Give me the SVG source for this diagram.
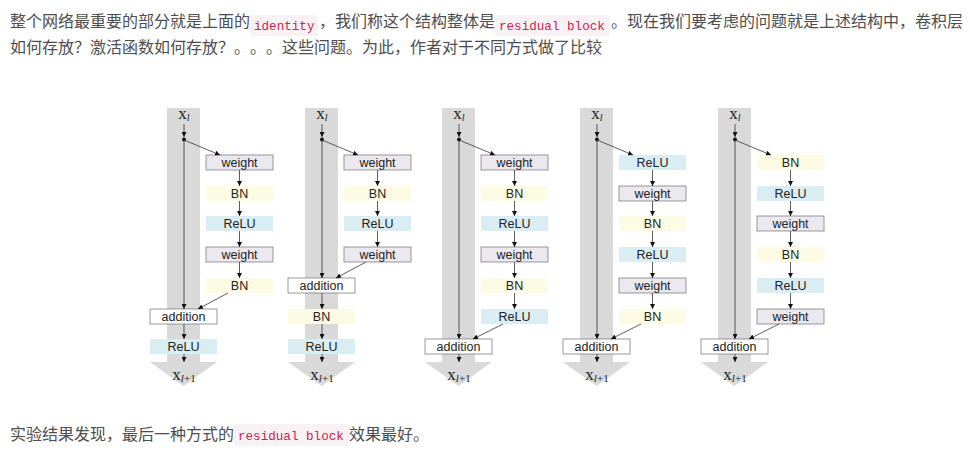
<svg xmlns="http://www.w3.org/2000/svg" width="970" height="453" viewBox="0 0 970 453">
<defs>
<style>
.p{font-family:"Noto Sans CJK SC","Noto Sans",sans-serif;font-size:16px;fill:#4d4d4d;text-spacing-trim:space-all;font-feature-settings:"halt" 0,"chws" 0}
.code{font-family:"Liberation Mono",monospace;font-size:12.6px;fill:#c7254e}
.cbg{fill:#f9f2f4}
.band{fill:#d9d9d9}
.w{fill:#ebe8f0;stroke:#7f7f7f;stroke-width:0.8}
.bn{fill:#fdfbe3}
.re{fill:#daedf3}
.ad{fill:#ffffff;stroke:#7f7f7f;stroke-width:0.8}
.t{font-family:"Liberation Sans",Arial,sans-serif;font-size:12.5px;fill:#222;text-anchor:middle}
.x{font-family:"Liberation Serif","Times New Roman",serif;font-size:17px;fill:#222;text-anchor:middle}
.ln{stroke:#333;stroke-width:0.8;fill:none;marker-end:url(#ah)}
.dot{fill:#111}
</style>
<marker id="ah" viewBox="0 0 6 6" refX="6" refY="3" markerWidth="5" markerHeight="5" markerUnits="userSpaceOnUse" orient="auto"><path d="M0,0 L6,3 L0,6 z" fill="#111"/></marker>
</defs>
<rect width="970" height="453" fill="#ffffff"/>

<g id="para">
<text class="p" x="10" y="27">整个网络最重要的部分就是上面的</text>
<rect class="cbg" x="250" y="15" width="68" height="21" rx="2"/>
<text class="code" x="254" y="30">identity</text>
<text class="p" x="319" y="27">，我们称这个结构整体是</text>
<rect class="cbg" x="495" y="15" width="115" height="21" rx="2"/>
<text class="code" x="499" y="30">residual block</text>
<text class="p" x="611" y="27">。现在我们要考虑的问题就是上述结构中，卷积层</text>
<text class="p" x="10" y="53">如何存放？激活函数如何存放？。。。这些问题。为此，作者对于不同方式做了比较</text>
<text class="p" x="10" y="440">实验结果发现，最后一种方式的</text>
<rect class="cbg" x="234" y="424" width="115" height="22" rx="2"/>
<text class="code" x="238" y="440">residual block</text>
<text class="p" x="349" y="440">效果最好。</text>
</g>

<g id="bands">
<rect class="band" x="167" y="108" width="33" height="254"/><polygon class="band" points="150,362 217,362 183.5,386"/>
<rect class="band" x="305" y="108" width="33" height="254"/><polygon class="band" points="288,362 355,362 321.5,386"/>
<rect class="band" x="442" y="108" width="33" height="254"/><polygon class="band" points="425,362 492,362 458.5,386"/>
<rect class="band" x="580" y="108" width="33" height="254"/><polygon class="band" points="563,362 630,362 596.5,386"/>
<rect class="band" x="718" y="108" width="33" height="254"/><polygon class="band" points="701,362 768,362 734.5,386"/>
</g>

<g id="labels">
<text class="x" x="184" y="119">x<tspan font-size="10" font-style="italic" dy="2">l</tspan></text>
<text class="x" x="322" y="119">x<tspan font-size="10" font-style="italic" dy="2">l</tspan></text>
<text class="x" x="459" y="119">x<tspan font-size="10" font-style="italic" dy="2">l</tspan></text>
<text class="x" x="597" y="119">x<tspan font-size="10" font-style="italic" dy="2">l</tspan></text>
<text class="x" x="735" y="119">x<tspan font-size="10" font-style="italic" dy="2">l</tspan></text>
<text class="x" x="184" y="380">x<tspan font-size="11" font-style="italic" dy="2">l</tspan><tspan font-size="11">+1</tspan></text>
<text class="x" x="322" y="380">x<tspan font-size="11" font-style="italic" dy="2">l</tspan><tspan font-size="11">+1</tspan></text>
<text class="x" x="459" y="380">x<tspan font-size="11" font-style="italic" dy="2">l</tspan><tspan font-size="11">+1</tspan></text>
<text class="x" x="597" y="380">x<tspan font-size="11" font-style="italic" dy="2">l</tspan><tspan font-size="11">+1</tspan></text>
<text class="x" x="735" y="380">x<tspan font-size="11" font-style="italic" dy="2">l</tspan><tspan font-size="11">+1</tspan></text>
</g>

<!-- Column 1 -->
<g id="c1-weight1"><rect class="w" x="206" y="155" width="67" height="15"/><text class="t" x="239.5" y="166.5">weight</text></g>
<g id="c1-bn1"><rect class="bn" x="206" y="186" width="67" height="15"/><text class="t" x="239.5" y="197.5">BN</text></g>
<g id="c1-relu1"><rect class="re" x="206" y="216" width="67" height="15"/><text class="t" x="239.5" y="227.5">ReLU</text></g>
<g id="c1-weight2"><rect class="w" x="206" y="247" width="67" height="15"/><text class="t" x="239.5" y="258.5">weight</text></g>
<g id="c1-bn2"><rect class="bn" x="206" y="278" width="67" height="15"/><text class="t" x="239.5" y="289.5">BN</text></g>
<g id="c1-add"><rect class="ad" x="150" y="309" width="67" height="15"/><text class="t" x="183.5" y="320.5">addition</text></g>
<g id="c1-relu2"><rect class="re" x="150" y="339" width="67" height="15"/><text class="t" x="183.5" y="350.5">ReLU</text></g>

<!-- Column 2 -->
<g id="c2-weight1"><rect class="w" x="344" y="155" width="67" height="15"/><text class="t" x="377.5" y="166.5">weight</text></g>
<g id="c2-bn1"><rect class="bn" x="344" y="186" width="67" height="15"/><text class="t" x="377.5" y="197.5">BN</text></g>
<g id="c2-relu1"><rect class="re" x="344" y="216" width="67" height="15"/><text class="t" x="377.5" y="227.5">ReLU</text></g>
<g id="c2-weight2"><rect class="w" x="344" y="247" width="67" height="15"/><text class="t" x="377.5" y="258.5">weight</text></g>
<g id="c2-add"><rect class="ad" x="288" y="278" width="67" height="15"/><text class="t" x="321.5" y="289.5">addition</text></g>
<g id="c2-bn2"><rect class="bn" x="288" y="309" width="67" height="15"/><text class="t" x="321.5" y="320.5">BN</text></g>
<g id="c2-relu2"><rect class="re" x="288" y="339" width="67" height="15"/><text class="t" x="321.5" y="350.5">ReLU</text></g>

<!-- Column 3 -->
<g id="c3-weight1"><rect class="w" x="481" y="155" width="67" height="15"/><text class="t" x="514.5" y="166.5">weight</text></g>
<g id="c3-bn1"><rect class="bn" x="481" y="186" width="67" height="15"/><text class="t" x="514.5" y="197.5">BN</text></g>
<g id="c3-relu1"><rect class="re" x="481" y="216" width="67" height="15"/><text class="t" x="514.5" y="227.5">ReLU</text></g>
<g id="c3-weight2"><rect class="w" x="481" y="247" width="67" height="15"/><text class="t" x="514.5" y="258.5">weight</text></g>
<g id="c3-bn2"><rect class="bn" x="481" y="278" width="67" height="15"/><text class="t" x="514.5" y="289.5">BN</text></g>
<g id="c3-relu2"><rect class="re" x="481" y="309" width="67" height="15"/><text class="t" x="514.5" y="320.5">ReLU</text></g>
<g id="c3-add"><rect class="ad" x="425" y="339" width="67" height="15"/><text class="t" x="458.5" y="350.5">addition</text></g>

<!-- Column 4 -->
<g id="c4-relu1"><rect class="re" x="619" y="155" width="67" height="15"/><text class="t" x="652.5" y="166.5">ReLU</text></g>
<g id="c4-weight1"><rect class="w" x="619" y="186" width="67" height="15"/><text class="t" x="652.5" y="197.5">weight</text></g>
<g id="c4-bn1"><rect class="bn" x="619" y="216" width="67" height="15"/><text class="t" x="652.5" y="227.5">BN</text></g>
<g id="c4-relu2"><rect class="re" x="619" y="247" width="67" height="15"/><text class="t" x="652.5" y="258.5">ReLU</text></g>
<g id="c4-weight2"><rect class="w" x="619" y="278" width="67" height="15"/><text class="t" x="652.5" y="289.5">weight</text></g>
<g id="c4-bn2"><rect class="bn" x="619" y="309" width="67" height="15"/><text class="t" x="652.5" y="320.5">BN</text></g>
<g id="c4-add"><rect class="ad" x="563" y="339" width="67" height="15"/><text class="t" x="596.5" y="350.5">addition</text></g>

<!-- Column 5 -->
<g id="c5-bn1"><rect class="bn" x="757" y="155" width="67" height="15"/><text class="t" x="790.5" y="166.5">BN</text></g>
<g id="c5-relu1"><rect class="re" x="757" y="186" width="67" height="15"/><text class="t" x="790.5" y="197.5">ReLU</text></g>
<g id="c5-weight1"><rect class="w" x="757" y="216" width="67" height="15"/><text class="t" x="790.5" y="227.5">weight</text></g>
<g id="c5-bn2"><rect class="bn" x="757" y="247" width="67" height="15"/><text class="t" x="790.5" y="258.5">BN</text></g>
<g id="c5-relu2"><rect class="re" x="757" y="278" width="67" height="15"/><text class="t" x="790.5" y="289.5">ReLU</text></g>
<g id="c5-weight2"><rect class="w" x="757" y="309" width="67" height="15"/><text class="t" x="790.5" y="320.5">weight</text></g>
<g id="c5-add"><rect class="ad" x="701" y="339" width="67" height="15"/><text class="t" x="734.5" y="350.5">addition</text></g>

<g id="connectors">
<!-- col1 -->
<line class="ln" x1="184" y1="124" x2="184" y2="137"/><circle class="dot" cx="184" cy="139.5" r="2"/>
<line class="ln" x1="184" y1="140" x2="220" y2="155"/>
<line class="ln" x1="184" y1="140" x2="184" y2="309"/>
<line class="ln" x1="239.5" y1="170" x2="239.5" y2="186"/>
<line class="ln" x1="239.5" y1="201" x2="239.5" y2="216"/>
<line class="ln" x1="239.5" y1="231" x2="239.5" y2="247"/>
<line class="ln" x1="239.5" y1="262" x2="239.5" y2="278"/>
<line class="ln" x1="228" y1="293" x2="198" y2="309"/>
<line class="ln" x1="184" y1="324" x2="184" y2="339"/>
<line class="ln" x1="184" y1="354" x2="184" y2="362"/>
<!-- col2 -->
<line class="ln" x1="322" y1="124" x2="322" y2="137"/><circle class="dot" cx="322" cy="139.5" r="2"/>
<line class="ln" x1="322" y1="140" x2="358" y2="155"/>
<line class="ln" x1="322" y1="140" x2="322" y2="278"/>
<line class="ln" x1="377.5" y1="170" x2="377.5" y2="186"/>
<line class="ln" x1="377.5" y1="201" x2="377.5" y2="216"/>
<line class="ln" x1="377.5" y1="231" x2="377.5" y2="247"/>
<line class="ln" x1="366" y1="262" x2="336" y2="278"/>
<line class="ln" x1="322" y1="293" x2="322" y2="309"/>
<line class="ln" x1="322" y1="324" x2="322" y2="339"/>
<line class="ln" x1="322" y1="354" x2="322" y2="362"/>
<!-- col3 -->
<line class="ln" x1="459" y1="124" x2="459" y2="137"/><circle class="dot" cx="459" cy="139.5" r="2"/>
<line class="ln" x1="459" y1="140" x2="495" y2="155"/>
<line class="ln" x1="459" y1="140" x2="459" y2="339"/>
<line class="ln" x1="514.5" y1="170" x2="514.5" y2="186"/>
<line class="ln" x1="514.5" y1="201" x2="514.5" y2="216"/>
<line class="ln" x1="514.5" y1="231" x2="514.5" y2="247"/>
<line class="ln" x1="514.5" y1="262" x2="514.5" y2="278"/>
<line class="ln" x1="514.5" y1="293" x2="514.5" y2="309"/>
<line class="ln" x1="503" y1="324" x2="473" y2="339"/>
<line class="ln" x1="459" y1="354" x2="459" y2="362"/>
<!-- col4 -->
<line class="ln" x1="597" y1="124" x2="597" y2="137"/><circle class="dot" cx="597" cy="139.5" r="2"/>
<line class="ln" x1="597" y1="140" x2="633" y2="155"/>
<line class="ln" x1="597" y1="140" x2="597" y2="339"/>
<line class="ln" x1="652.5" y1="170" x2="652.5" y2="186"/>
<line class="ln" x1="652.5" y1="201" x2="652.5" y2="216"/>
<line class="ln" x1="652.5" y1="231" x2="652.5" y2="247"/>
<line class="ln" x1="652.5" y1="262" x2="652.5" y2="278"/>
<line class="ln" x1="652.5" y1="293" x2="652.5" y2="309"/>
<line class="ln" x1="641" y1="324" x2="611" y2="339"/>
<line class="ln" x1="597" y1="354" x2="597" y2="362"/>
<!-- col5 -->
<line class="ln" x1="735" y1="124" x2="735" y2="137"/><circle class="dot" cx="735" cy="139.5" r="2"/>
<line class="ln" x1="735" y1="140" x2="771" y2="155"/>
<line class="ln" x1="735" y1="140" x2="735" y2="339"/>
<line class="ln" x1="790.5" y1="170" x2="790.5" y2="186"/>
<line class="ln" x1="790.5" y1="201" x2="790.5" y2="216"/>
<line class="ln" x1="790.5" y1="231" x2="790.5" y2="247"/>
<line class="ln" x1="790.5" y1="262" x2="790.5" y2="278"/>
<line class="ln" x1="790.5" y1="293" x2="790.5" y2="309"/>
<line class="ln" x1="779" y1="324" x2="749" y2="339"/>
<line class="ln" x1="735" y1="354" x2="735" y2="362"/>
</g>
</svg>
